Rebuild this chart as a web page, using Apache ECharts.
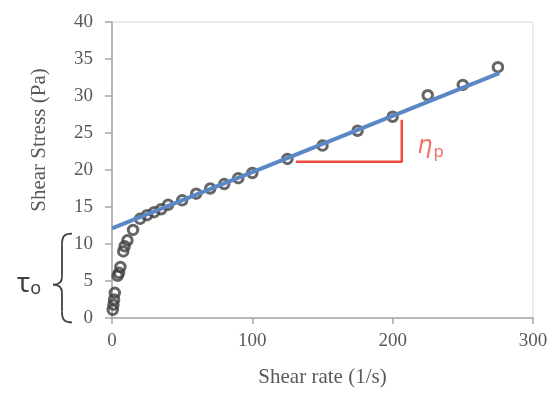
<!DOCTYPE html>
<html>
<head>
<meta charset="utf-8">
<script src="https://cdn.jsdelivr.net/npm/echarts@6/dist/echarts.min.js"></script>
<style>
  html, body { margin: 0; padding: 0; background: #ffffff; }
  #chart { width: 557px; height: 406px; }
</style>
</head>
<body>
<div id="chart"></div>
<script>
// Measured flow curve: shear rate (1/s) vs shear stress (Pa)
const shearRate = [0.5, 1, 1.5, 2, 4, 5, 6, 8, 9, 11, 15, 20, 25, 30, 35, 40, 50, 60, 70, 80, 90, 100, 125, 150, 175, 200, 225, 250, 275];
const shearStress = [1.1, 1.8, 2.5, 3.4, 5.7, 6.1, 6.9, 9.0, 9.7, 10.5, 11.9, 13.4, 13.9, 14.3, 14.7, 15.3, 15.9, 16.8, 17.5, 18.1, 18.9, 19.6, 21.5, 23.3, 25.3, 27.2, 30.1, 31.5, 33.9];

// Bingham fit line (end points)
const fitRate = [0, 276];
const fitStress = [12.1, 33.1];

// Slope triangle for plastic viscosity
const slopeRate = [131, 206.5, 206.5];
const slopeStress = [21.1, 21.1, 26.8];
const etaLabelAt = [214, 23.1];

// Yield stress brace: bottom, tip and top (Pa)
const yieldBrace = [-0.6, 4.5, 11.4];

const xTicks = { min: 0, max: 300, interval: 100 };
const yTicks = { min: 0, max: 40, interval: 5 };

const textGrey = '#595959';
const serif = '"Liberation Serif", "Times New Roman", serif';

const chart = echarts.init(document.getElementById('chart'));

const points = shearRate.map((x, i) => [x, shearStress[i]]);
const fit = fitRate.map((x, i) => [x, fitStress[i]]);
const slope = slopeRate.map((x, i) => [x, slopeStress[i]]);

chart.setOption({
  animation: false,
  grid: {
    left: 112, right: 24, top: 22, bottom: 88,
    show: true, borderColor: '#d9d9d9', borderWidth: 1
  },
  xAxis: {
    type: 'value',
    min: xTicks.min, max: xTicks.max, interval: xTicks.interval,
    name: 'Shear rate (1/s)',
    nameLocation: 'middle',
    nameGap: 49,
    nameTextStyle: { fontFamily: serif, fontSize: 21, color: textGrey },
    axisLine: { show: true, lineStyle: { color: '#a6a6a6', width: 1.5 } },
    axisTick: { show: true, length: 6, lineStyle: { color: '#a6a6a6', width: 1.5 } },
    axisLabel: { fontFamily: serif, fontSize: 19, color: textGrey, margin: 14 },
    splitLine: { show: false }
  },
  yAxis: {
    type: 'value',
    min: yTicks.min, max: yTicks.max, interval: yTicks.interval,
    name: 'Shear Stress (Pa)',
    nameLocation: 'middle',
    nameGap: 62,
    nameTextStyle: { fontFamily: serif, fontSize: 21, color: textGrey, padding: [0, 0, 0, 60] },
    axisLine: { show: true, lineStyle: { color: '#a6a6a6', width: 1.5 } },
    axisTick: { show: true, length: 7, lineStyle: { color: '#a6a6a6', width: 1.5 } },
    axisLabel: { fontFamily: serif, fontSize: 19, color: textGrey, margin: 19 },
    splitLine: { show: false }
  },
  series: [
    {
      type: 'scatter',
      data: points,
      symbol: 'circle',
      symbolSize: 9.5,
      itemStyle: { color: 'rgba(255,255,255,0)', borderColor: '#404040', borderWidth: 3 },
      z: 2
    },
    {
      type: 'line',
      data: fit,
      showSymbol: false,
      lineStyle: { color: '#5a88c6', width: 4 },
      z: 3
    },
    {
      type: 'line',
      data: slope,
      showSymbol: false,
      lineStyle: { color: '#ec4d3f', width: 2.5 },
      z: 3
    },
    {
      type: 'scatter',
      data: [etaLabelAt],
      symbolSize: 0,
      label: {
        show: true,
        position: 'right',
        formatter: '{eta|η}{sub|p}',
        rich: {
          eta: { fontFamily: '"DejaVu Sans", sans-serif', fontStyle: 'italic', fontSize: 24, color: '#ec4d3f' },
          sub: { fontFamily: '"Noto Sans", sans-serif', fontSize: 17, color: '#ec4d3f', padding: [10, 0, 0, 1] }
        }
      },
      z: 4
    }
  ]
});

// Curly brace marking the yield stress region, placed from the y scale
function drawBrace() {
  const py = v => chart.convertToPixel({ gridIndex: 0 }, [0, v])[1];
  const bot = py(yieldBrace[0]);
  const tip = py(yieldBrace[1]);
  const top = py(yieldBrace[2]);
  const xr = 72, xm = 62, xl = 53;
  const stroke = { stroke: '#404040', lineWidth: 1.8, fill: null };
  const seg = (x1, y1, cpx1, cpy1, cpx2, cpy2, x2, y2) => ({
    type: 'bezierCurve',
    shape: { x1, y1, cpx1, cpy1, cpx2, cpy2, x2, y2 },
    style: stroke
  });
  const straight = (x1, y1, x2, y2) => ({
    type: 'line',
    shape: { x1, y1, x2, y2 },
    style: stroke
  });
  chart.setOption({
    graphic: [
      seg(xr, top, xm + 2, top, xm, top + 3, xm, top + 11),
      straight(xm, top + 11, xm, tip - 8),
      seg(xm, tip - 8, xm, tip - 2, xl + 5, tip, xl, tip),
      seg(xl, tip, xl + 5, tip, xm, tip + 2, xm, tip + 8),
      straight(xm, tip + 8, xm, bot - 11),
      seg(xm, bot - 11, xm, bot - 3, xm + 2, bot, xr, bot),
      {
        type: 'text',
        x: 17, y: tip,
        style: {
          text: '{t|τ}{o|o}',
          rich: {
            t: { fontFamily: '"Noto Sans", sans-serif', fontSize: 27, fill: '#404040' },
            o: { fontFamily: '"Noto Sans", sans-serif', fontSize: 18, fill: '#404040', padding: [8, 0, 0, 0] }
          },
          verticalAlign: 'middle'
        }
      }
    ]
  });
}
drawBrace();
</script>
</body>
</html>
